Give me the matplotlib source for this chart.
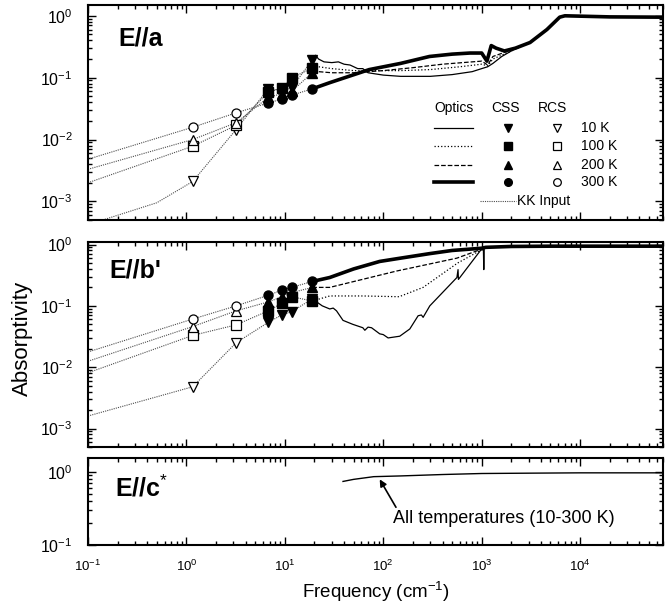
import numpy as np
import matplotlib.pyplot as plt
from matplotlib.ticker import LogLocator, NullFormatter

plt.rcParams['font.family'] = ['Liberation Sans', 'DejaVu Sans']
plt.rcParams['mathtext.fontset'] = 'custom'
plt.rcParams['mathtext.rm'] = 'Liberation Sans'
plt.rcParams['axes.unicode_minus'] = False

temps = ["10 K", "100 K", "200 K", "300 K"]
css_marks = ["v", "s", "^", "o"]
rcs_marks = ["v", "s", "^", "o"]
opt_styles = [(0.9, "-"), (0.9, ":"), (0.9, "--"), (2.6, "-")]

# point measurements (same frequencies in both panels)
f_rcs = [1.16, 3.2]
f_css = [6.8, 9.3, 11.7, 19.0]

# ---- E//a ----
a_rcs = [[0.0021, 0.0145], [0.0078, 0.017], [0.010, 0.0187], [0.0158, 0.027]]
a_css = [[0.066, 0.062, 0.068, 0.195], [0.058, 0.068, 0.099, 0.143],
         [0.048, 0.055, 0.060, 0.120], [0.039, 0.045, 0.052, 0.066]]
a_kk_f = [[0.1, 0.5], [0.1], [0.1], [0.1]]
a_kk_y = [[0.00042, 0.00095], [0.0020], [0.0033], [0.0048]]

a_opt_f = [
    [19, 20.5, 22, 25, 30, 35, 40, 46, 55, 62, 70, 100, 150, 300, 500, 800, 1000, 1150, 1300, 1600, 2000, 2600, 3100],
    [19, 22, 30, 50, 80, 150, 300, 600, 1000, 1150, 1300, 2000, 2600, 3100],
    [19, 22, 30, 50, 100, 200, 400, 800, 1000, 1150, 1300, 2000, 2600, 3100],
    [19, 28.6, 72, 150, 295, 500, 760, 1000, 1130, 1250, 1400, 1700, 2200, 3100, 4600, 6200, 7000, 20000, 69000],
]
a_opt_y = [
    [0.195, 0.23, 0.2, 0.18, 0.175, 0.18, 0.165, 0.16, 0.14, 0.14, 0.12, 0.11, 0.105, 0.105, 0.112, 0.125, 0.14, 0.15, 0.17, 0.22, 0.27, 0.33, 0.37],
    [0.143, 0.15, 0.14, 0.13, 0.13, 0.13, 0.135, 0.15, 0.165, 0.155, 0.2, 0.27, 0.33, 0.37],
    [0.12, 0.125, 0.12, 0.12, 0.13, 0.145, 0.165, 0.18, 0.185, 0.16, 0.22, 0.28, 0.33, 0.37],
    [0.066, 0.083, 0.135, 0.17, 0.22, 0.24, 0.25, 0.25, 0.185, 0.33, 0.3, 0.27, 0.3, 0.37, 0.6, 0.95, 1.0, 0.96, 0.95],
]

# ---- E//b' ----
b_rcs = [[0.0048, 0.025], [0.033, 0.049], [0.046, 0.083], [0.061, 0.10]]
b_css = [[0.054, 0.071, 0.080, 0.13], [0.083, 0.11, 0.141, 0.12],
         [0.116, 0.14, 0.164, 0.20], [0.149, 0.18, 0.20, 0.25]]
b_kk_f = [[0.1], [0.1], [0.1], [0.1]]
b_kk_y = [[0.0016], [0.0081], [0.0125], [0.0177]]

b_opt_f = [
    [19, 24, 28.6, 31, 33.5, 39, 49, 62, 65, 70, 76, 92, 100, 112, 147, 186, 226, 244, 254, 297, 560, 575, 580, 1000, 1040, 1050, 1060, 1100, 2000],
    [19, 28.6, 62, 145, 254, 570, 1080, 2000],
    [19, 28.6, 137, 560, 1080, 2000],
    [19, 28.6, 50, 92, 150, 295, 500, 1000, 1100, 2000, 5000, 69000],
]
b_opt_y = [
    [0.13, 0.1, 0.089, 0.092, 0.083, 0.058, 0.050, 0.044, 0.040, 0.045, 0.044, 0.035, 0.034, 0.030, 0.032, 0.042, 0.069, 0.071, 0.065, 0.10, 0.29, 0.39, 0.27, 0.85, 0.88, 0.39, 0.88, 0.9, 0.93],
    [0.12, 0.145, 0.145, 0.141, 0.2, 0.5, 0.88, 0.93],
    [0.2, 0.2, 0.37, 0.6, 0.88, 0.93],
    [0.25, 0.29, 0.4, 0.53, 0.6, 0.71, 0.8, 0.87, 0.9, 0.93, 0.94, 0.94],
]

# ---- E//c* ----
c_f = [39, 50, 80, 150, 400, 1000, 3000, 10000, 69000]
c_y = [0.74, 0.79, 0.86, 0.88, 0.92, 0.95, 0.96, 0.97, 0.97]

fig = plt.figure(figsize=(6.69, 6.12), dpi=100)
ax1 = fig.add_axes([0.1315, 0.6405, 0.860, 0.3515])
ax2 = fig.add_axes([0.1315, 0.2696, 0.860, 0.3350])
ax3 = fig.add_axes([0.1315, 0.1095, 0.860, 0.1422])


def style(ax, ylim):
    ax.set_xscale("log")
    ax.set_yscale("log")
    ax.set_xlim(0.1, 7e4)
    ax.set_ylim(*ylim)
    ax.xaxis.set_major_locator(LogLocator(base=10, numticks=20))
    ax.xaxis.set_minor_locator(LogLocator(base=10, subs=np.arange(2, 10), numticks=20))
    ax.yaxis.set_minor_locator(LogLocator(base=10, subs=np.arange(2, 10), numticks=20))
    ax.yaxis.set_minor_formatter(NullFormatter())
    ax.xaxis.set_minor_formatter(NullFormatter())
    ax.tick_params(which="both", direction="in", top=True, right=True, width=1.0)
    ax.tick_params(which="major", length=6)
    ax.tick_params(which="minor", length=3)
    ax.tick_params(axis="y", labelsize=11.5, pad=11)
    ax.tick_params(axis="x", labelsize=9.5, pad=10)
    for s in ax.spines.values():
        s.set_linewidth(1.5)


def panel(ax, rcs, css, kkf, kky, optf, opty):
    for i in range(4):
        # KK input: extrapolation through the point data
        xs = kkf[i] + f_rcs + f_css
        ys = kky[i] + rcs[i] + css[i]
        ax.plot(xs, ys, color="0.3", lw=0.8, ls=(0, (1, 1)))
        lw, ls = opt_styles[i]
        ax.plot(optf[i], opty[i], color="black", lw=lw, ls=ls)
    for i in range(4):
        ax.plot(f_rcs, rcs[i], ls="none", marker=rcs_marks[i], ms=6.5,
                mfc="white", mec="black", mew=0.9)
        ax.plot(f_css, css[i], ls="none", marker=css_marks[i], ms=6.5,
                mfc="black", mec="black")


style(ax1, (5e-4, 1.5))
panel(ax1, a_rcs, a_css, a_kk_f, a_kk_y, a_opt_f, a_opt_y)
ax1.set_xticklabels([])
ax1.text(0.052, 0.846, "E//a", transform=ax1.transAxes, fontsize=18,
         fontweight="bold", va="center")

# legend table
tr = ax1.transAxes
ax1.text(0.637, 0.520, "Optics", transform=tr, ha="center", va="center", fontsize=10)
ax1.text(0.725, 0.520, "CSS", transform=tr, ha="center", va="center", fontsize=10)
ax1.text(0.808, 0.520, "RCS", transform=tr, ha="center", va="center", fontsize=10)
rows = [0.4265, 0.3456, 0.256, 0.175]
for i in range(4):
    lw, ls = opt_styles[i]
    ax1.plot([0.602, 0.670], [rows[i], rows[i]], transform=tr, color="black", lw=lw, ls=ls)
    ax1.plot([0.730], [rows[i]], transform=tr, marker=css_marks[i], ms=5.5,
             mfc="black", mec="black", ls="none")
    ax1.plot([0.815], [rows[i]], transform=tr, marker=rcs_marks[i], ms=5.5,
             mfc="white", mec="black", mew=0.9, ls="none")
    ax1.text(0.857, rows[i], temps[i], transform=tr, va="center", fontsize=10)
ax1.plot([0.682, 0.744], [0.088, 0.088], transform=tr, color="0.3", lw=0.8, ls=(0, (1, 1)))
ax1.text(0.745, 0.088, "KK Input", transform=tr, va="center", fontsize=10)

style(ax2, (5e-4, 1.1))
panel(ax2, b_rcs, b_css, b_kk_f, b_kk_y, b_opt_f, b_opt_y)
ax2.set_xticklabels([])
ax2.text(0.038, 0.863, "E//b'", transform=ax2.transAxes, fontsize=18,
         fontweight="bold", va="center")
ax2.set_ylabel("Absorptivity", fontsize=16)
ax2.yaxis.set_label_coords(-0.096, 0.53)

style(ax3, (0.1, 1.55))
ax3.plot(c_f, c_y, color="black", lw=1.0)
ax3.text(0.047, 0.655, r"E//c$^{*}$", transform=ax3.transAxes, fontsize=18,
         fontweight="bold", va="center")
ax3.annotate("All temperatures (10-300 K)", xy=(92, 0.79), xytext=(126, 0.23),
             fontsize=13, va="center",
             arrowprops=dict(arrowstyle="-|>", color="black", lw=1.2,
                             shrinkA=0, shrinkB=0, mutation_scale=10,
                             relpos=(0.02, 1.0)))
ax3.set_xlabel("Frequency (cm$^{-1}$)", fontsize=13.5, labelpad=4)

fig.savefig("out.png", dpi=100)
